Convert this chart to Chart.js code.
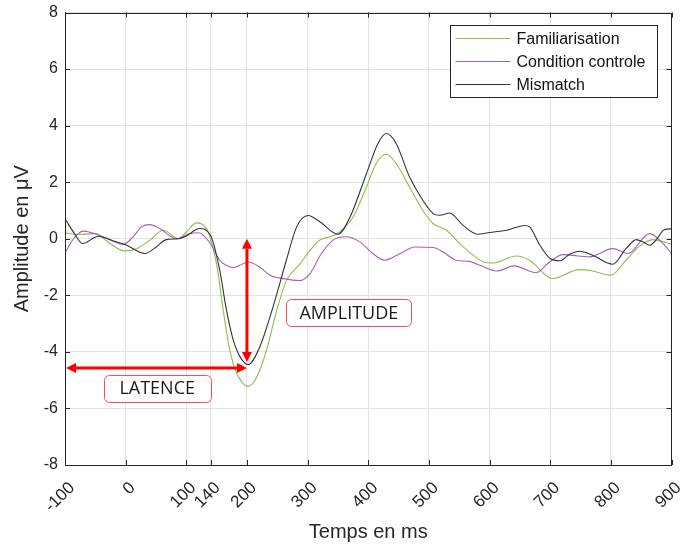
<!DOCTYPE html>
<html>
<head>
<meta charset="utf-8">
<script src="https://cdn.jsdelivr.net/npm/chart.js@4.4.1/dist/chart.umd.min.js"></script>
<style>
  html, body { margin: 0; padding: 0; background: #fff; }
  #wrap { width: 682px; height: 545px; position: relative; }
</style>
</head>
<body>
<div id="wrap"><canvas id="erp"></canvas></div>
<script>
// values: time in ms, amplitude in µV
var famT = [-100,-80,-50,-26,-2,18,40,62,87,100,117,133,140,150,160,170,180,191,202,216,232,249,265,287,304,320,337,353,375,397,413,430,446,468,490,507,529,551,573,590,606,644,666,704,748,770,800,825,847,869,900];
var famV = [0.21,0.15,0.18,-0.17,-0.43,-0.35,-0.05,0.3,0.0,0.24,0.56,0.36,0.0,-0.9,-2.4,-3.75,-4.6,-5.05,-5.22,-4.9,-3.96,-2.54,-1.48,-0.9,-0.41,-0.05,0.07,0.24,0.77,1.83,2.66,2.99,2.66,1.83,1.0,0.54,0.3,-0.17,-0.58,-0.82,-0.86,-0.61,-0.76,-1.41,-1.09,-1.14,-1.29,-0.76,-0.27,-0.03,-0.19];

var ctrlT = [-100,-86,-70,-48,-26,-4,12,26,40,56,84,106,120,139,155,166,177,188,202,221,238,260,287,304,322,342,364,386,408,427,452,477,507,523,545,567,584,612,640,677,699,721,765,803,828,864,886,900];
var ctrlV = [-0.5,0.0,0.27,0.16,-0.03,-0.2,0.06,0.42,0.5,0.36,0.0,0.18,0.21,-0.15,-0.76,-0.94,-1.02,-0.94,-0.82,-1.0,-1.29,-1.41,-1.48,-1.23,-0.55,-0.05,0.07,-0.11,-0.53,-0.76,-0.53,-0.29,-0.31,-0.46,-0.76,-0.8,-0.94,-1.14,-0.96,-1.2,-0.82,-0.56,-0.64,-0.35,-0.52,0.18,-0.17,-0.52];

var misT = [-100,-85,-71,-45,-20,-1,32,50,67,87,100,122,140,155,166,177,188,202,221,243,265,282,301,320,350,370,397,416,430,446,468,490,507,518,534,556,580,600,628,658,666,683,700,716,732,748,770,803,825,842,853,864,875,888,900];
var misV = [0.71,0.2,-0.17,0.09,-0.08,-0.2,-0.52,-0.3,-0.03,0.0,0.1,0.36,0.12,-1.1,-2.5,-3.55,-4.15,-4.45,-3.83,-2.41,-0.76,0.42,0.82,0.6,0.16,0.77,2.3,3.37,3.72,3.37,2.19,1.36,0.89,0.83,0.91,0.48,0.16,0.22,0.3,0.47,0.42,-0.23,-0.7,-0.78,-0.55,-0.44,-0.58,-0.9,-0.35,-0.03,-0.11,-0.23,-0.03,0.32,0.35];

var seriesNames = ['Familiarisation', 'Condition controle', 'Mismatch'];
var seriesColors = ['#8cbd52', '#a561b3', '#333333'];
var xTicks = [-100, 0, 100, 140, 200, 300, 400, 500, 600, 700, 800, 900];

// annotation anchors (ms / µV)
var latenceMs = 200;
var amplitudeTop = 0, amplitudeBottom = -4.36;
var latenceLevel = -4.57;
var latenceLabel = { text: 'LATENCE', x: 52, y: -5.29, w: 107 };
var amplitudeLabel = { text: 'AMPLITUDE', x: 368, y: -2.61, w: 125 };

function pts(t, v) {
    return t.map(function (x, i) { return { x: x, y: v[i] }; });
}

var axisFont = 'Liberation Sans, Arial, sans-serif';
var ink = '#262626';

function arrow(ctx, x1, y1, x2, y2) {
    var ang = Math.atan2(y2 - y1, x2 - x1), hl = 10, hw = 5;
    var ux = Math.cos(ang), uy = Math.sin(ang);
    ctx.beginPath();
    ctx.moveTo(x1 + ux * hl, y1 + uy * hl);
    ctx.lineTo(x2 - ux * hl, y2 - uy * hl);
    ctx.stroke();
    [[x1, y1, -1], [x2, y2, 1]].forEach(function (e) {
        var px = e[0], py = e[1], s = e[2];
        ctx.beginPath();
        ctx.moveTo(px, py);
        ctx.lineTo(px - s * ux * hl - uy * hw, py - s * uy * hl + ux * hw);
        ctx.lineTo(px - s * ux * hl + uy * hw, py - s * uy * hl - ux * hw);
        ctx.closePath();
        ctx.fill();
    });
}

function labelBox(ctx, lab, xs, ys) {
    var cx = xs.getPixelForValue(lab.x), cy = ys.getPixelForValue(lab.y), h = 27;
    ctx.beginPath();
    ctx.roundRect(Math.round(cx - lab.w / 2) + 0.5, Math.round(cy - h / 2) + 0.5, lab.w, h, 5);
    ctx.fillStyle = '#fff';
    ctx.fill();
    ctx.strokeStyle = '#f25050';
    ctx.lineWidth = 1;
    ctx.stroke();
    ctx.fillStyle = '#1a1a1a';
    ctx.font = '18px "Open Sans"';
    ctx.textAlign = 'center';
    ctx.textBaseline = 'middle';
    ctx.fillText(lab.text, cx, cy + 1);
}

var extras = {
    id: 'extras',
    afterDatasetsDraw: function (chart) {
        var ctx = chart.ctx, a = chart.chartArea;
        var xs = chart.scales.x, ys = chart.scales.y;
        ctx.save();

        // box + inward ticks
        ctx.strokeStyle = ink;
        ctx.lineWidth = 1;
        ctx.beginPath();
        ctx.rect(Math.round(a.left) + 0.5, Math.round(a.top) + 0.5, Math.round(a.right - a.left) - 1, Math.round(a.bottom - a.top) - 1);
        xTicks.forEach(function (t) {
            var x = Math.round(xs.getPixelForValue(t)) + 0.5;
            ctx.moveTo(x, a.bottom); ctx.lineTo(x, a.bottom - 5);
            ctx.moveTo(x, a.top); ctx.lineTo(x, a.top + 5);
        });
        ys.ticks.forEach(function (tk) {
            var y = Math.round(ys.getPixelForValue(tk.value)) + 0.5;
            ctx.moveTo(a.left, y); ctx.lineTo(a.left + 5, y);
            ctx.moveTo(a.right, y); ctx.lineTo(a.right - 5, y);
        });
        ctx.stroke();

        // red arrows
        ctx.strokeStyle = '#ff0000';
        ctx.fillStyle = '#ff0000';
        ctx.lineWidth = 3;
        var xl = xs.getPixelForValue(latenceMs);
        arrow(ctx, xl, ys.getPixelForValue(amplitudeBottom), xl, ys.getPixelForValue(amplitudeTop));
        arrow(ctx, xs.getPixelForValue(-100) + 1, ys.getPixelForValue(latenceLevel), xl, ys.getPixelForValue(latenceLevel));

        labelBox(ctx, latenceLabel, xs, ys);
        labelBox(ctx, amplitudeLabel, xs, ys);

        // legend
        var lx = a.right - 222, ly = a.top + 12.5, lw = 207, lh = 72;
        ctx.fillStyle = '#fff';
        ctx.fillRect(Math.round(lx), Math.round(ly), lw, lh);
        ctx.strokeStyle = ink;
        ctx.lineWidth = 1;
        ctx.strokeRect(Math.round(lx) + 0.5, Math.round(ly) + 0.5, lw, lh);
        ctx.font = '16px ' + axisFont;
        ctx.textAlign = 'left';
        ctx.textBaseline = 'middle';
        seriesNames.forEach(function (name, i) {
            var y = Math.round(ly + 13 + i * 23) + 0.5;
            ctx.strokeStyle = seriesColors[i];
            ctx.lineWidth = 1.2;
            ctx.beginPath();
            ctx.moveTo(lx + 6, y); ctx.lineTo(lx + 61, y);
            ctx.stroke();
            ctx.fillStyle = '#111';
            ctx.fillText(name, lx + 67, y + 1);
        });
        ctx.restore();
    }
};

var ctx = document.getElementById('erp').getContext('2d');
var chart = new Chart(ctx, {
    type: 'line',
    data: {
        datasets: [
            { label: seriesNames[0], data: pts(famT, famV), borderColor: seriesColors[0], order: 3 },
            { label: seriesNames[1], data: pts(ctrlT, ctrlV), borderColor: seriesColors[1], order: 2 },
            { label: seriesNames[2], data: pts(misT, misV), borderColor: seriesColors[2], order: 1 }
        ]
    },
    options: {
        responsive: true,
        maintainAspectRatio: false,
        animation: false,
        devicePixelRatio: 1,
        layout: { padding: { top: 12.5, right: 10.5, bottom: 0, left: 0 } },
        elements: {
            line: { borderWidth: 1.1, cubicInterpolationMode: 'monotone', fill: false },
            point: { radius: 0 }
        },
        plugins: { legend: { display: false }, tooltip: { enabled: false } },
        scales: {
            x: {
                type: 'linear',
                min: -100,
                max: 900,
                afterBuildTicks: function (s) {
                    s.ticks = xTicks.map(function (v) { return { value: v }; });
                },
                afterFit: function (s) {
                    s.height = 80;
                    s.paddingLeft = 0;
                    s.paddingRight = 0;
                },
                ticks: {
                    autoSkip: false,
                    minRotation: 45,
                    maxRotation: 45,
                    padding: 13,
                    labelOffset: 7,
                    color: ink,
                    font: { family: axisFont, size: 17 },
                    callback: function (v) { return String(v); }
                },
                grid: { color: '#e3e3e3', drawTicks: false },
                border: { color: ink },
                title: {
                    display: true,
                    text: 'Temps en ms',
                    color: ink,
                    font: { family: axisFont, size: 20 },
                    padding: { top: 0, bottom: 1 }
                }
            },
            y: {
                min: -8,
                max: 8,
                afterFit: function (s) {
                    s.width = 65;
                    s.paddingTop = 0;
                    s.paddingBottom = 0;
                },
                ticks: {
                    stepSize: 2,
                    padding: 7,
                    color: ink,
                    font: { family: axisFont, size: 16 }
                },
                grid: { color: '#e3e3e3', drawTicks: false },
                border: { color: ink },
                title: {
                    display: true,
                    text: 'Amplitude en μV',
                    color: ink,
                    font: { family: axisFont, size: 20 },
                    padding: { top: 10, bottom: 0 }
                }
            }
        }
    },
    plugins: [extras]
});
</script>
</body>
</html>
